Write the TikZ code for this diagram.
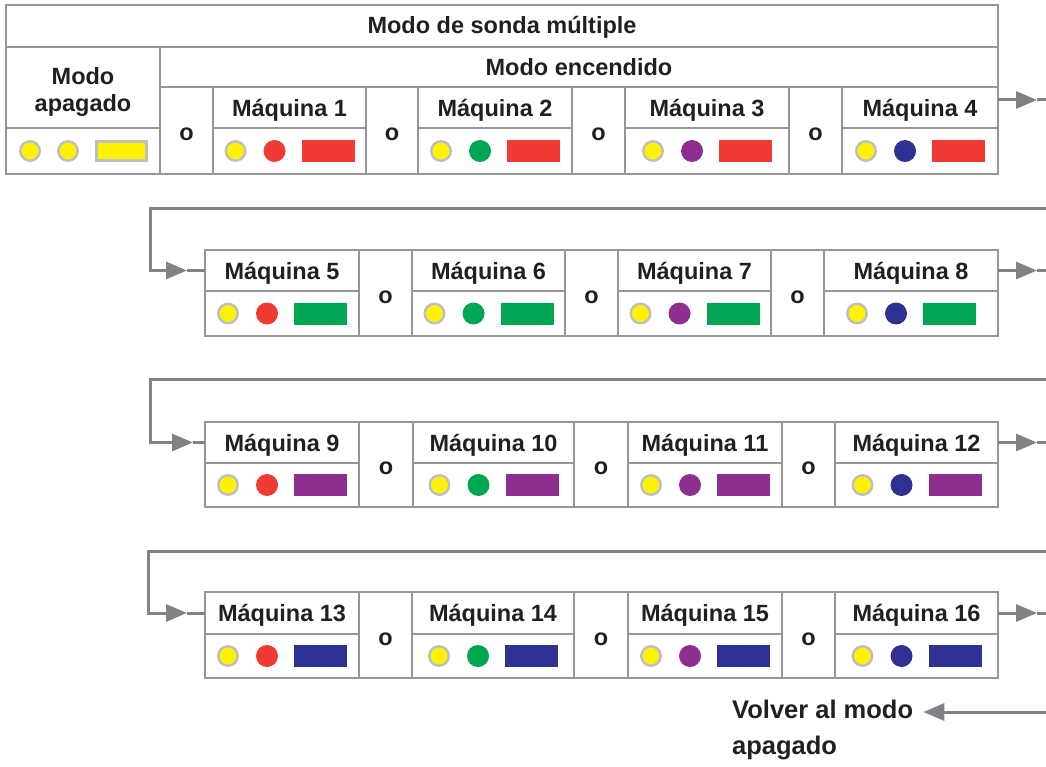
\documentclass[tikz,border=0pt]{standalone}
\usepackage{fontspec}
\setmainfont{Liberation Sans}
\usetikzlibrary{arrows.meta}
\definecolor{lgray}{HTML}{939598}
\definecolor{agray}{HTML}{808285}
\definecolor{cgray}{HTML}{BCBEC0}
\definecolor{txt}{HTML}{231F20}
\definecolor{myyellow}{HTML}{FFF200}
\definecolor{myred}{HTML}{EF3B33}
\definecolor{mygreen}{HTML}{00A651}
\definecolor{mypurple}{HTML}{8E2F8F}
\definecolor{myblue}{HTML}{2E3192}
\tikzset{
  cell/.style={draw=lgray, line width=2pt, inner sep=0pt, outer sep=0pt, anchor=north west},
  lbl/.style={font=\fontsize{23.5}{27}\selectfont\bfseries, text=txt, inner sep=0pt},
  vol/.style={font=\fontsize{25.5}{36}\selectfont\bfseries, text=txt, inner sep=0pt, align=left},
  ydot/.style={circle, fill=myyellow, draw=cgray, line width=2.4pt, minimum size=19.5pt, inner sep=0pt},
  cdot/.style={circle, minimum size=22pt, inner sep=0pt},
  bar/.style={minimum width=53pt, minimum height=22pt, inner sep=0pt},
  flow/.style={draw=agray, line width=3pt},
  tip/.style={-{Triangle[length=21pt,width=17pt]}},
}
% machine cell: #1 idx, #2 x, #3 width, #4 ytop, #5 ymid, #6 ybot, #7 dot colour, #8 bar colour
\newcommand\mach[8]{%
  \pgfmathsetmacro\hh{#5-#4}\pgfmathsetmacro\ch{#6-#5}%
  \pgfmathsetmacro\cx{#2+#3/2}\pgfmathsetmacro\by{#4+29.5}%
  \node[cell, minimum width=#3pt, minimum height=\hh pt] (h#1) at (#2,#4) {};
  \node[cell, minimum width=#3pt, minimum height=\ch pt] (c#1) at (#2,#5) {};
  \node[lbl, anchor=base] (t#1) at (\cx,\by) {Máquina #1};
  \node[ydot] (y#1) at ([xshift=-54pt]c#1.center) {};
  \node[cdot, fill=#7] (d#1) at ([xshift=-15pt]c#1.center) {};
  \node[bar, fill=#8] (b#1) at ([xshift=38.5pt]c#1.center) {};
}
% "o" cell: #1 name, #2 x, #3 width, #4 ytop, #5 ybot
\newcommand\ocell[5]{%
  \pgfmathsetmacro\oh{#5-#4}\pgfmathsetmacro\ox{#2+#3/2}\pgfmathsetmacro\oy{(#4+#5)/2+10}%
  \node[cell, minimum width=#3pt, minimum height=\oh pt] (#1) at (#2,#4) {};
  \node[lbl, anchor=base] (#1t) at (\ox,\oy) {o};
}
\begin{document}
\begin{tikzpicture}[x=1pt,y=-1pt]
\useasboundingbox (0,0) rectangle (1046,767);
% top table
\node[cell, minimum width=992pt, minimum height=42pt] (title) at (6,5) {};
\node[lbl, anchor=base] (titlet) at (502,34) {Modo de sonda múltiple};
\node[cell, minimum width=154pt, minimum height=81pt] (off) at (6,47) {};
\node[lbl, anchor=north, align=center] (offt) at (83,67) {Modo\\apagado};
\node[cell, minimum width=154pt, minimum height=46pt] (offc) at (6,128) {};
\node[ydot] (offy1) at ([xshift=-53pt]offc.center) {};
\node[ydot] (offy2) at ([xshift=-15pt]offc.center) {};
\node[bar, fill=myyellow, draw=cgray, line width=2.4pt, minimum width=50pt, minimum height=19pt] (offb) at ([xshift=38.5pt]offc.center) {};
\node[cell, minimum width=838pt, minimum height=40pt] (on) at (160,47) {};
\node[lbl, anchor=base] (ont) at (579,76) {Modo encendido};
% row 1
\ocell{o1}{160}{53}{87}{174}
\mach{1}{213}{153}{87}{128}{174}{myred}{myred}
\ocell{o2}{366}{52}{87}{174}
\mach{2}{418}{154}{87}{128}{174}{mygreen}{myred}
\ocell{o3}{572}{53}{87}{174}
\mach{3}{625}{164}{87}{128}{174}{mypurple}{myred}
\ocell{o4}{789}{53}{87}{174}
\mach{4}{842}{156}{87}{128}{174}{myblue}{myred}
% row 2
\mach{5}{205}{154}{250}{291}{336}{myred}{mygreen}
\ocell{o5}{359}{53}{250}{336}
\mach{6}{412}{153}{250}{291}{336}{mygreen}{mygreen}
\ocell{o6}{565}{53}{250}{336}
\mach{7}{618}{153}{250}{291}{336}{mypurple}{mygreen}
\ocell{o7}{771}{53}{250}{336}
\mach{8}{824}{174}{250}{291}{336}{myblue}{mygreen}
% row 3
\mach{9}{205}{154}{422}{463}{507}{myred}{mypurple}
\ocell{o8}{359}{54}{422}{507}
\mach{10}{413}{161}{422}{463}{507}{mygreen}{mypurple}
\ocell{o9}{574}{54}{422}{507}
\mach{11}{628}{154}{422}{463}{507}{mypurple}{mypurple}
\ocell{o10}{782}{53}{422}{507}
\mach{12}{835}{163}{422}{463}{507}{myblue}{mypurple}
% row 4
\mach{13}{205}{154}{592}{634}{678}{myred}{myblue}
\ocell{o11}{359}{53}{592}{678}
\mach{14}{412}{162}{592}{634}{678}{mygreen}{myblue}
\ocell{o12}{574}{54}{592}{678}
\mach{15}{628}{154}{592}{634}{678}{mypurple}{myblue}
\ocell{o13}{782}{53}{592}{678}
\mach{16}{835}{163}{592}{634}{678}{myblue}{myblue}
% outgoing arrows
\coordinate (a1) at (1037,100);  \coordinate (e1) at (1046,100);
\coordinate (a2) at (1037,270.5);\coordinate (e2) at (1046,270.5);
\coordinate (a3) at (1037,442.5);\coordinate (e3) at (1046,442.5);
\coordinate (a4) at (1037,613);  \coordinate (e4) at (1046,613);
\draw[flow,tip] ([yshift=7.5pt]h4.east) -- (a1);
\draw[flow] (a1) -- (e1);
\draw[flow,tip] (h8.east) -- (a2);
\draw[flow] (a2) -- (e2);
\draw[flow,tip] (h12.east) -- (a3);
\draw[flow] (a3) -- (e3);
\draw[flow,tip] (h16.east) -- (a4);
\draw[flow] (a4) -- (e4);
% return lines
\coordinate (r2) at (1046,209); \coordinate (k2) at (150,209); \coordinate (i2) at (187,270.5);
\coordinate (r3) at (1046,379); \coordinate (k3) at (150,379); \coordinate (i3) at (193,442.5);
\coordinate (r4) at (1046,551); \coordinate (k4) at (148,551); \coordinate (i4) at (187,613);
\draw[flow,tip] (r2) -- (k2) |- (i2);
\draw[flow] (i2) -- (h5.west);
\draw[flow,tip] (r3) -- (k3) |- (i3);
\draw[flow] (i3) -- (h9.west);
\draw[flow,tip] (r4) -- (k4) |- (i4);
\draw[flow] (i4) -- (h13.west);
% back to off mode
\node[vol, anchor=north west] (v) at (732,700) {Volver al modo\\apagado};
\coordinate (vs) at (1046,712);
\draw[flow,tip] (vs) -- ([xshift=10pt]v.east |- vs);
\end{tikzpicture}
\end{document}
